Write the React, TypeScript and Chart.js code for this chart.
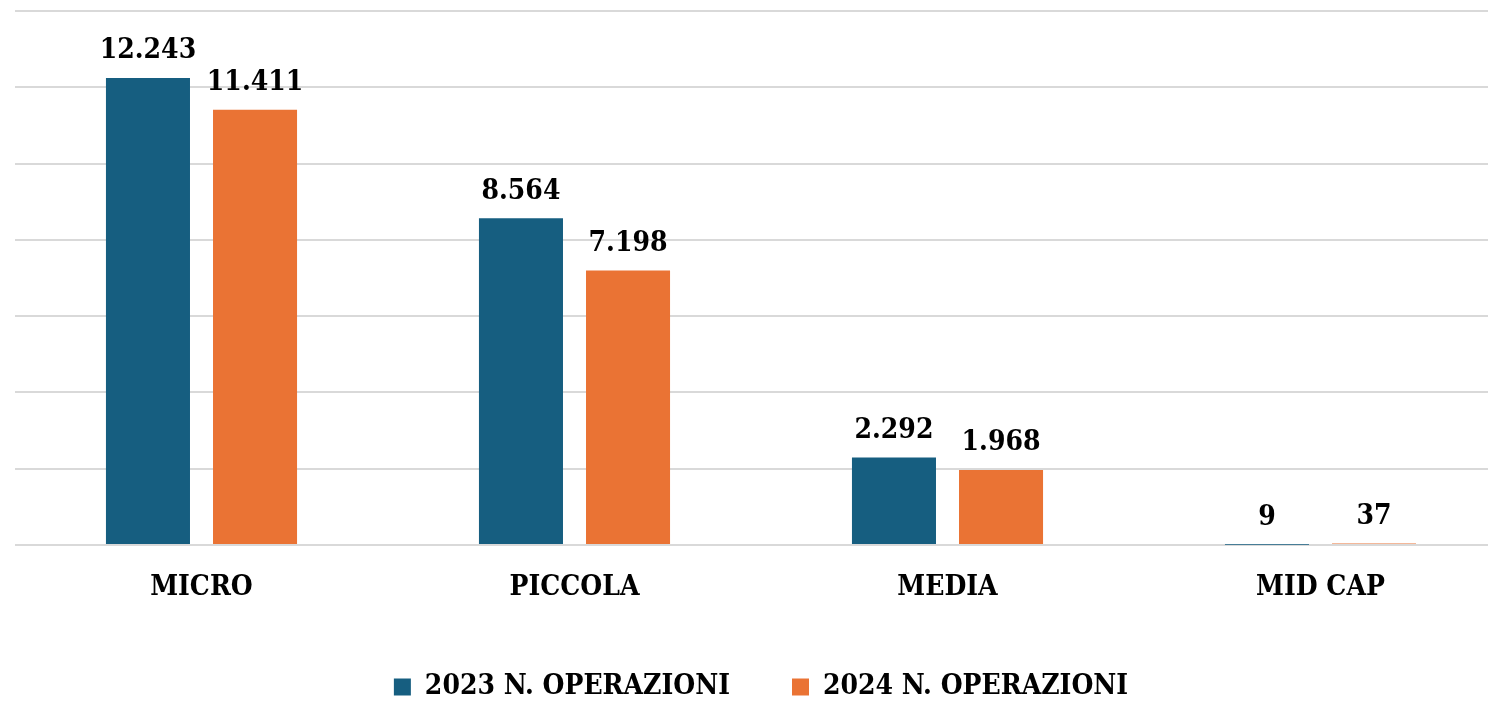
import React, { useEffect, useRef } from "react";
import { Chart, registerables } from "chart.js";

Chart.register(...registerables);

const categories = ["MICRO", "PICCOLA", "MEDIA", "MID CAP"];
const series2023 = [12243, 8564, 2292, 9];
const series2024 = [11411, 7198, 1968, 37];
const seriesLabels = ["2023 N. OPERAZIONI", "2024 N. OPERAZIONI"];
const yMax = 14000;
const yStep = 2000;

const FONT = "'DejaVu Serif Condensed', 'DejaVu Serif', serif";
const BLUE = "#165E80";
const ORANGE = "#EA7334";

function fmt(v: number): string {
  return String(v).replace(/\B(?=(\d{3})+(?!\d))/g, ".");
}

const valueLabels = {
  id: "valueLabels",
  afterDatasetsDraw(chart: any) {
    const ctx = chart.ctx;
    ctx.save();
    ctx.font = `bold 28px ${FONT}`;
    ctx.fillStyle = "#000000";
    ctx.textAlign = "center";
    ctx.textBaseline = "bottom";
    chart.data.datasets.forEach((ds: any, i: number) => {
      const meta = chart.getDatasetMeta(i);
      meta.data.forEach((bar: any, j: number) => {
        ctx.fillText(fmt(ds.data[j]), bar.x, bar.y - 13);
      });
    });
    ctx.restore();
  },
};

export default function App() {
  const ref = useRef<HTMLCanvasElement>(null);
  useEffect(() => {
    document.body.style.margin = "0";
    const chart = new Chart(ref.current!, {
      type: "bar",
      data: {
        labels: categories,
        datasets: [
          { label: seriesLabels[0], data: series2023, backgroundColor: BLUE },
          { label: seriesLabels[1], data: series2024, backgroundColor: ORANGE },
        ],
      },
      options: {
        animation: false,
        responsive: false,
        maintainAspectRatio: false,
        layout: { padding: { left: 15, right: 0, top: 11, bottom: 0 } },
        datasets: {
          bar: { categoryPercentage: 0.574, barPercentage: 0.785 },
        },
        scales: {
          x: {
            grid: { display: false, drawTicks: false },
            border: { display: false },
            ticks: {
              color: "#000000",
              padding: 26,
              font: { family: FONT, size: 28, weight: "bold" },
            },
            afterFit(scale: any) {
              scale.height = 66;
            },
          },
          y: {
            min: 0,
            max: yMax,
            ticks: { display: false, stepSize: yStep },
            grid: { color: "#D9D9D9", lineWidth: 2, drawTicks: false },
            border: { display: false },
          },
        },
        plugins: {
          legend: {
            position: "bottom",
            labels: {
              color: "#000000",
              boxWidth: 17,
              boxHeight: 17,
              padding: 62,
              font: { family: FONT, size: 28, weight: "bold" },
            },
          },
          tooltip: { enabled: false },
        },
      },
      plugins: [valueLabels],
    });
    return () => chart.destroy();
  }, []);
  return (
    <div style={{ width: 1488, height: 702, overflow: "hidden" }}>
      <canvas ref={ref} width={1507} height={711} style={{ display: "block" }} />
    </div>
  );
}
